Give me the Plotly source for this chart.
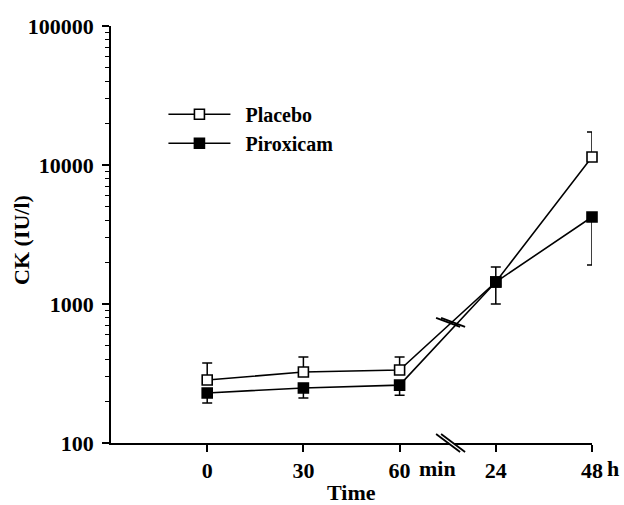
import math
import plotly.graph_objects as go

# ---- data ----
time_labels = ["0", "30", "60", "24", "48"]
time_units = ["", "", "min", "", "h"]
placebo_mean = [284, 324, 335, 1440, 11430]
placebo_upper = [376, 416, 416, 1845, 17270]
piroxicam_mean = [229, 249, 261, 1440, 4225]
piroxicam_lower = [194, 211, 221, 1000, 1910]
series_names = ["Placebo", "Piroxicam"]
y_tick_values = [100, 1000, 10000, 100000]
y_tick_labels = ["100", "1000", "10000", "100000"]
break_after_index = 2      # axis break between "60 min" and "24 h"
break_fraction = 0.53      # where the break sits between those ticks

x_pos = list(range(len(time_labels)))
FONT = "Liberation Serif"
NB = "\u00a0\u00a0"  # small gap between legend line and legend text

placebo_err_plus = [u - m for u, m in zip(placebo_upper, placebo_mean)]
pirox_err_minus = [m - l for m, l in zip(piroxicam_mean, piroxicam_lower)]

fig = go.Figure()
fig.add_trace(go.Scatter(
    x=x_pos, y=placebo_mean, name=NB + series_names[0], mode="lines+markers",
    cliponaxis=False,
    line=dict(color="black", width=1.6),
    marker=dict(symbol="square", size=10, color="white",
                line=dict(color="black", width=1.6)),
    error_y=dict(type="data", symmetric=False, array=placebo_err_plus,
                 arrayminus=[0] * len(placebo_mean),
                 color="black", thickness=1.5, width=5),
))
fig.add_trace(go.Scatter(
    x=x_pos, y=piroxicam_mean, name=NB + series_names[1], mode="lines+markers",
    cliponaxis=False,
    line=dict(color="black", width=1.6),
    marker=dict(symbol="square", size=10, color="black",
                line=dict(color="black", width=1.6)),
    error_y=dict(type="data", symmetric=False, array=[0] * len(piroxicam_mean),
                 arrayminus=pirox_err_minus,
                 color="black", thickness=1.5, width=5),
))

# ---- break marks ----
bx = break_after_index + break_fraction
def interp_log(series):
    a = math.log10(series[break_after_index])
    b = math.log10(series[break_after_index + 1])
    return a + (b - a) * break_fraction
by = 10 ** ((interp_log(placebo_mean) + interp_log(piroxicam_mean)) / 2)

shapes = []
def add_slash(xref, yref, xa, ya, gap):
    if gap:
        shapes.append(dict(type="line", xref=xref, yref=yref, xsizemode="pixel",
                           ysizemode="pixel", xanchor=xa, yanchor=ya,
                           x0=-11, x1=11, y0=8, y1=-8,
                           line=dict(color="white", width=4), layer="above"))
    for dx in (-2.5, 2.5):
        shapes.append(dict(type="line", xref=xref, yref=yref, xsizemode="pixel",
                           ysizemode="pixel", xanchor=xa, yanchor=ya,
                           x0=dx - 12, x1=dx + 12, y0=9, y1=-9,
                           line=dict(color="black", width=1.8), layer="above"))
add_slash("x", "paper", bx, 0, True)
add_slash("x", "y", bx, by, False)

annotations = []
for i, u in enumerate(time_units):
    if u:
        annotations.append(dict(
            text=u, x=x_pos[i], xref="x", y=0, yref="paper",
            xanchor="left", yanchor="middle",
            xshift=17 if u == "min" else 13, yshift=-25, showarrow=False,
            font=dict(family=FONT, size=22, color="black", weight="bold")))
annotations.append(dict(
    text="Time", x=0.5, xref="paper", y=0, yref="paper",
    xanchor="center", yanchor="middle", yshift=-49, showarrow=False,
    borderpad=0, borderwidth=0,
    font=dict(family=FONT, size=22, color="black", weight="bold")))
annotations.append(dict(
    text="CK (IU/l)", textangle=-90, x=0, xref="paper", y=0.487, yref="paper",
    xanchor="center", yanchor="middle", xshift=-89, showarrow=False,
    font=dict(family=FONT, size=22, color="black", weight="bold")))

minor_vals = [m * 10 ** e for e in range(2, 5) for m in range(2, 10)]

fig.update_layout(
    width=624, height=505, autosize=False,
    margin=dict(l=111, r=32, t=26, b=62),
    paper_bgcolor="white", plot_bgcolor="white",
    font=dict(family=FONT, size=22, color="black", weight="bold"),
    showlegend=True,
    legend=dict(x=0.109, y=0.835, xanchor="left", yanchor="top",
                font=dict(family=FONT, size=20, color="black", weight="bold"),
                bgcolor="rgba(0,0,0,0)", itemwidth=62, tracegroupgap=0),
    shapes=shapes, annotations=annotations,
    xaxis=dict(
        range=[-1, len(time_labels) - 1], tickmode="array",
        tickvals=x_pos, ticktext=time_labels, automargin=False,
        showline=True, linecolor="black", linewidth=1.5,
        ticks="outside", ticklen=7, tickwidth=1.5, tickcolor="black",
        showgrid=False, zeroline=False, ticklabelstandoff=0,
        tickfont=dict(family=FONT, size=22, color="black", weight="bold"),
    ),
    yaxis=dict(
        type="log", range=[2, 5], tickmode="array", automargin=False,
        tickvals=y_tick_values, ticktext=y_tick_labels,
        showline=True, linecolor="black", linewidth=1.5,
        ticks="outside", ticklen=7, tickwidth=1.5, tickcolor="black",
        showgrid=False, zeroline=False, ticklabelstandoff=4,
        minor=dict(tickmode="array", tickvals=minor_vals, ticks="outside",
                   ticklen=4, tickwidth=1.2, tickcolor="black", showgrid=False),
        tickfont=dict(family=FONT, size=22, color="black", weight="bold"),
    ),
)

fig.write_html("out.html", config={"displayModeBar": False},
               post_script="document.body.style.margin='0';document.body.style.overflow='hidden';")
